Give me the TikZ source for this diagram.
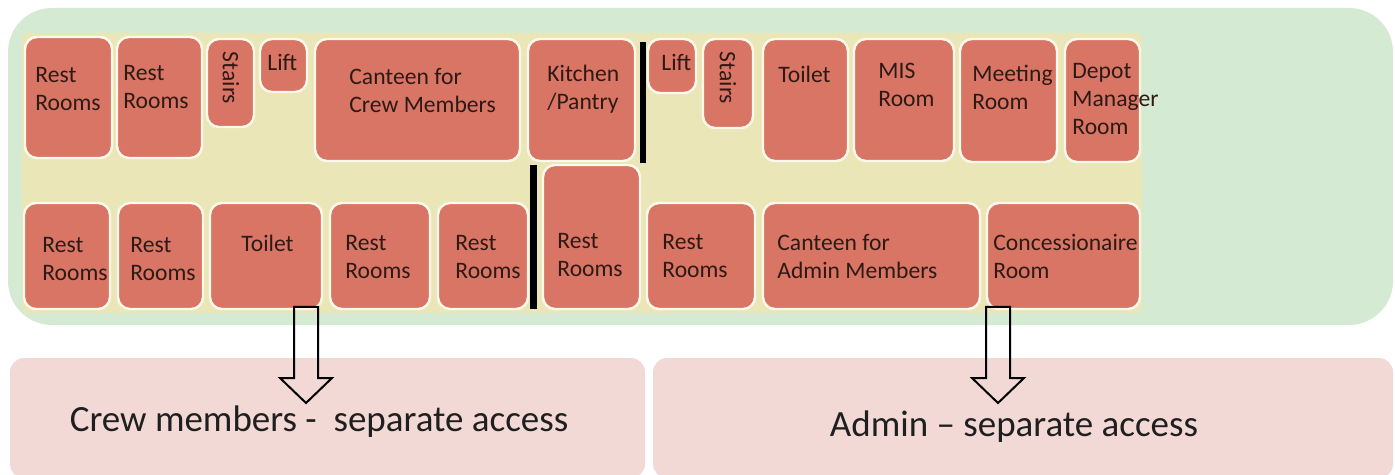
\documentclass[tikz,border=0pt]{standalone}
\usepackage{fontspec}
\setmainfont{Carlito}
\usetikzlibrary{fit,calc}
\definecolor{zonegreen}{HTML}{D5EAD3}
\definecolor{corridor}{HTML}{EAE6B8}
\definecolor{roomfill}{HTML}{D87565}
\definecolor{roomedge}{HTML}{FFF9EC}
\definecolor{accessfill}{HTML}{F3D9D5}
\definecolor{roomtext}{HTML}{2E1A15}
\tikzset{
  room/.style={draw=roomedge, line width=1.2pt, fill=roomfill, rounded corners=6pt, inner sep=0pt},
  lbl/.style={anchor=north west, inner sep=0pt, align=left, text=roomtext, font=\fontsize{11.8}{14}\selectfont},
  vlbl/.style={inner sep=0pt, rotate=-90, text=roomtext, font=\fontsize{11.8}{14}\selectfont},
  wall/.style={fill=black},
  accessbox/.style={fill=accessfill, rounded corners=7pt, inner sep=0pt},
  accesstext/.style={inner sep=0pt, font=\fontsize{18.5}{22}\selectfont, text=black!88},
  blockarrow/.style={draw=black, line width=1pt, line join=miter},
}
% a room drawn from its corner points
\newcommand\roomat[5]{\node[room, fit={(#2,#3) (#4,#5)}] (#1) {};}
% a hollow downward block arrow: name, centre x, top y, tip y
\newcommand\accessarrow[4]{%
  \coordinate (#1-top) at (#2,#3);
  \coordinate (#1-tip) at (#2,#4);
  \draw[blockarrow] ($(#1-top)+(-12,0)$) -- ($(#1-top)+(12,0)$)
    -- ($(#1-tip)+(12,-25)$) -- ($(#1-tip)+(26,-25)$) -- (#1-tip)
    -- ($(#1-tip)+(-26,-25)$) -- ($(#1-tip)+(-12,-25)$) -- cycle;}
\begin{document}
\begin{tikzpicture}[x=0.5pt, y=-0.5pt]
\useasboundingbox (0,0) rectangle (1395,475);

% building zone and corridor
\fill[zonegreen, rounded corners=22pt] (8,8) rectangle (1393,325);
\fill[corridor, rounded corners=3pt] (22,33) rectangle (1142,313);

% upper row of rooms
\roomat{rA1}{25}{37}{112}{158}
\roomat{rA2}{117}{37}{202}{158}
\roomat{stA}{207}{39}{254}{127}
\roomat{liftA}{260}{39}{307}{92}
\roomat{canteenCrew}{315}{39}{520}{161}
\roomat{kitchen}{528}{39}{635}{161}
\roomat{liftB}{648}{39}{696}{93}
\roomat{stB}{703}{39}{753}{128}
\roomat{toiletA}{763}{39}{848}{161}
\roomat{mis}{854}{39}{954}{161}
\roomat{meeting}{960}{39}{1057}{162}
\roomat{depot}{1065}{39}{1140}{162}

% lower row of rooms
\roomat{rB1}{24}{203}{110}{309}
\roomat{rB2}{118}{203}{203}{309}
\roomat{toiletB}{210}{203}{322}{309}
\roomat{rB3}{330}{203}{430}{309}
\roomat{rB4}{438}{203}{528}{309}
\roomat{rB5}{543}{165}{640}{309}
\roomat{rB6}{647}{203}{755}{309}
\roomat{canteenAdmin}{763}{203}{980}{309}
\roomat{conc}{987}{203}{1140}{309}

% dividing walls
\fill[wall] (640,42) rectangle (646,163);
\fill[wall] (530,165) rectangle (537,309);

% upper row labels
\node[lbl] (rA1-t) at (35,67) {Rest\\Rooms};
\node[lbl] (rA2-t) at (123,65) {Rest\\Rooms};
\node[vlbl] (stA-t) at (231,78) {Stairs};
\node[lbl] (liftA-t) at (267,54) {Lift};
\node[lbl] (canteenCrew-t) at (349,68) {Canteen for\\Crew Members};
\node[lbl] (kitchen-t) at (547,65) {Kitchen\\/Pantry};
\node[lbl] (liftB-t) at (661,54) {Lift};
\node[vlbl] (stB-t) at (728,78) {Stairs};
\node[lbl] (toiletA-t) at (778,66) {Toilet};
\node[lbl] (mis-t) at (878,63) {MIS\\Room};
\node[lbl] (meeting-t) at (972,65) {Meeting\\Room};
\node[lbl] (depot-t) at (1072,63) {Depot\\Manager\\Room};

% lower row labels
\node[lbl] (rB1-t) at (42,237) {Rest\\Rooms};
\node[lbl] (rB2-t) at (130,237) {Rest\\Rooms};
\node[lbl] (toiletB-t) at (241,235) {Toilet};
\node[lbl] (rB3-t) at (345,235) {Rest\\Rooms};
\node[lbl] (rB4-t) at (455,235) {Rest\\Rooms};
\node[lbl] (rB5-t) at (557,233) {Rest\\Rooms};
\node[lbl] (rB6-t) at (662,234) {Rest\\Rooms};
\node[lbl] (canteenAdmin-t) at (777,234) {Canteen for\\Admin Members};
\node[lbl] (conc-t) at (993,234) {Concessionaire\\Room};

% access zones
\node[accessbox, fit={(10,358) (645,478)}] (crewbox) {};
\node[accessbox, fit={(653,358) (1393,478)}] (adminbox) {};
\node[accesstext] (crewbox-t) at (319,422) {Crew members -\ \ separate access};
\node[accesstext] (adminbox-t) at (1014,427) {Admin -- separate access};

% access arrows
\accessarrow{crewArrow}{306}{307}{403}
\accessarrow{adminArrow}{998}{307}{403}
\end{tikzpicture}
\end{document}
